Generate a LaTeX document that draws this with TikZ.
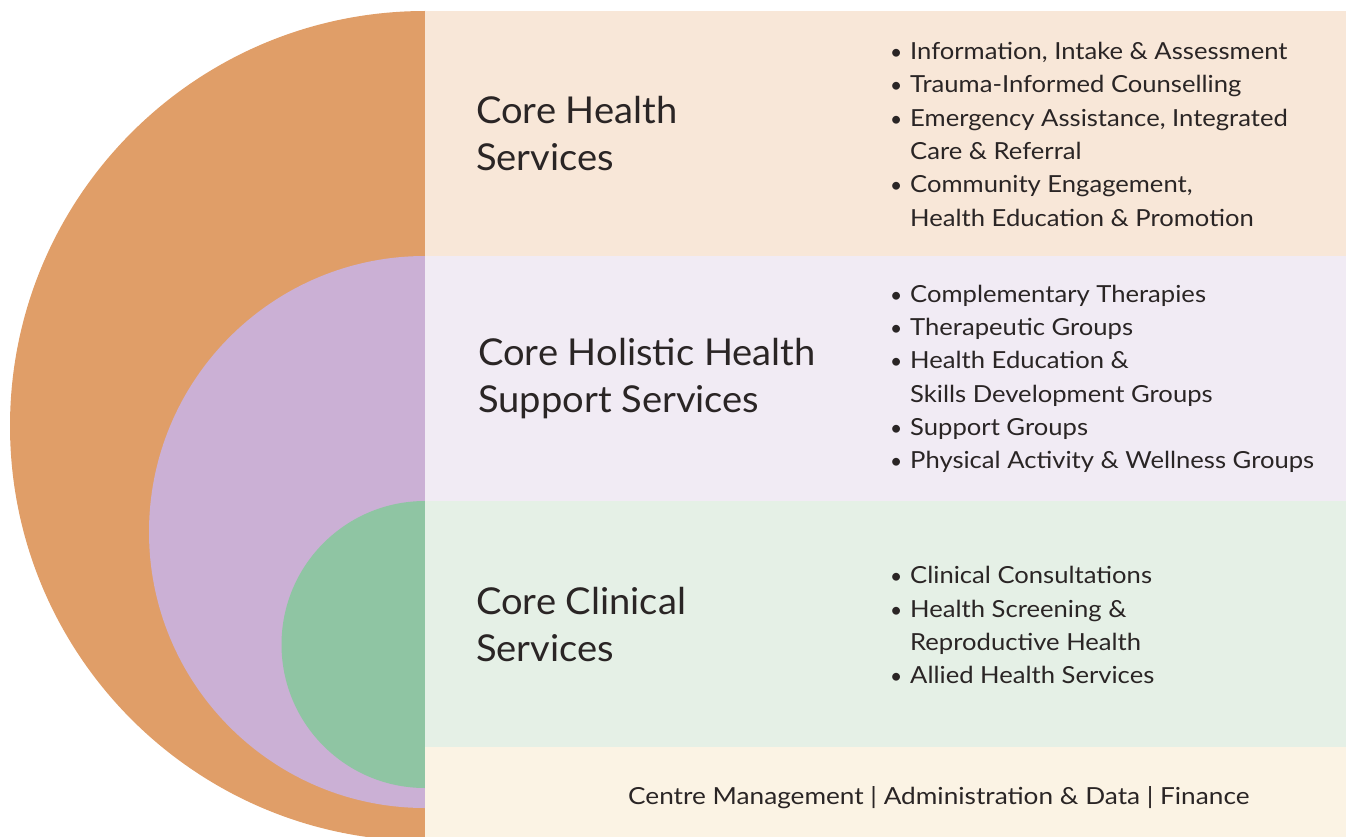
\documentclass[tikz,border=0pt]{standalone}
\usepackage{fontspec}
\setmainfont{Lato}
\newfontfamily\titlefont[FakeStretch=1.03]{Lato}
\newfontfamily\itemfont[FakeStretch=1.09]{Lato}
\newfontfamily\footfont[FakeStretch=1.115]{Lato}
\definecolor{cOrange}{HTML}{E09E68}
\definecolor{cPurple}{HTML}{CBB0D5}
\definecolor{cGreen}{HTML}{8FC5A3}
\definecolor{bPeach}{HTML}{F8E7D8}
\definecolor{bLav}{HTML}{F1EBF4}
\definecolor{bGreen}{HTML}{E5F0E6}
\definecolor{bCream}{HTML}{FBF3E4}
\definecolor{ink}{HTML}{2A2525}
\tikzset{
  title/.style={anchor=base west, inner sep=0pt, text=ink, font=\titlefont\fontsize{37}{44}\selectfont},
  item/.style={anchor=base west, inner sep=0pt, text=ink, font=\itemfont\fontsize{23.5}{28}\selectfont},
  dot/.style={anchor=base west, inner sep=0pt, text=ink, font=\fontsize{21}{28}\selectfont},
  footer/.style={anchor=base west, inner sep=0pt, text=ink, font=\footfont\fontsize{23.5}{28}\selectfont},
}
\begin{document}
\begin{tikzpicture}[x=1pt,y=-1pt]
\useasboundingbox (0,0) rectangle (1346,837);
\begin{scope}
\clip (0,0) rectangle (1346,837);
\fill[cOrange] (425,426) circle[radius=415];
\fill[cPurple] (425,532) circle[radius=276];
\fill[cGreen] (425,644.5) circle[radius=143.5];
\fill[bPeach] (425,11) rectangle (1346,256);
\fill[bLav] (425,256) rectangle (1346,501);
\fill[bGreen] (425,501) rectangle (1346,747);
\fill[bCream] (425,747) rectangle (1346,837);
\end{scope}
% titles
\node[title] (t1a) at (476,124) {Core Health};
\node[title] (t1b) at (476,171) {Services};
\node[title] (t2a) at (478,365) {Core Holistic Health};
\node[title] (t2b) at (478,412) {Support Services};
\node[title] (t3a) at (476,614) {Core Clinical};
\node[title] (t3b) at (476,661) {Services};
% list 1
\node[dot] (b11) at (890,60) {•};
\node[item] (i11) at (910,60) {Information, Intake \& Assessment};
\node[dot] (b12) at (890,93) {•};
\node[item] (i12) at (910,93) {Trauma-Informed Counselling};
\node[dot] (b13) at (890,127) {•};
\node[item] (i13) at (910,127) {Emergency Assistance, Integrated};
\node[item] (i13b) at (910,160) {Care \& Referral};
\node[dot] (b14) at (890,193) {•};
\node[item] (i14) at (910,193) {Community Engagement,};
\node[item] (i14b) at (910,226) {Health Education \& Promotion};
% list 2
\node[dot] (b21) at (890,302) {•};
\node[item] (i21) at (910,302) {Complementary Therapies};
\node[dot] (b22) at (890,335) {•};
\node[item] (i22) at (910,335) {Therapeutic Groups};
\node[dot] (b23) at (890,368) {•};
\node[item] (i23) at (910,368) {Health Education \&};
\node[item] (i23b) at (910,402) {Skills Development Groups};
\node[dot] (b24) at (890,435) {•};
\node[item] (i24) at (910,435) {Support Groups};
\node[dot] (b25) at (890,468) {•};
\node[item] (i25) at (910,468) {Physical Activity \& Wellness Groups};
% list 3
\node[dot] (b31) at (890,583) {•};
\node[item] (i31) at (910,583) {Clinical Consultations};
\node[dot] (b32) at (890,617) {•};
\node[item] (i32) at (910,617) {Health Screening \&};
\node[item] (i32b) at (910,650) {Reproductive Health};
\node[dot] (b33) at (890,683) {•};
\node[item] (i33) at (910,683) {Allied Health Services};
% footer
\node[footer] (f) at (628,804) {Centre Management | Administration \& Data | Finance};
\end{tikzpicture}
\end{document}
